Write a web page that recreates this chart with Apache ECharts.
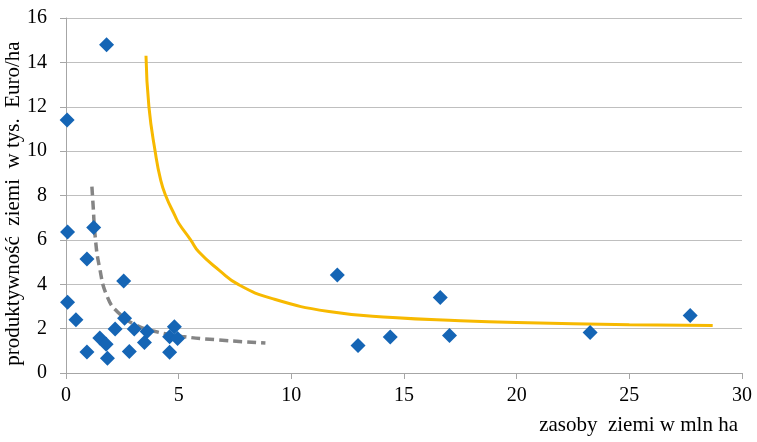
<!DOCTYPE html>
<html>
<head>
<meta charset="utf-8">
<script src="https://cdn.jsdelivr.net/npm/echarts@6/dist/echarts.min.js"></script>
<style>html,body{margin:0;padding:0;background:#fff}#c{width:757px;height:442px}</style>
</head>
<body>
<div id="c"></div>
<script>
// scatter data: land resources (mln ha) vs land productivity (tys. Euro/ha)
var pointsX = [0.05, 1.8, 0.07, 1.23, 0.93, 2.56, 0.07, 0.44, 0.93, 1.5, 1.78, 1.84, 2.18, 2.6, 2.81, 3.03, 3.48, 3.6, 4.81, 4.6, 4.95, 4.6, 12.04, 12.96, 14.39, 16.61, 17.02, 23.26, 27.7];
var pointsY = [11.4, 14.8, 6.36, 6.56, 5.14, 4.15, 3.19, 2.40, 0.95, 1.58, 1.3, 0.67, 1.98, 2.47, 0.97, 1.98, 1.37, 1.87, 2.09, 1.63, 1.55, 0.93, 4.42, 1.24, 1.62, 3.40, 1.69, 1.83, 2.59];
// yellow trend curve
var yellowX = [3.55, 3.68, 3.97, 4.2, 4.42, 4.86, 5.01, 5.53, 5.9, 6.79, 7.68, 9.16, 11.67, 14.5, 17.5, 20, 25, 28.7];
var yellowY = [14.3, 12.0, 9.9, 8.7, 8.0, 7.04, 6.74, 6.0, 5.45, 4.64, 3.97, 3.35, 2.77, 2.5, 2.36, 2.28, 2.18, 2.14];
// gray dashed trend curve
var grayX = [1.15, 1.2, 1.3, 1.48, 1.83, 2.34, 3.08, 3.97, 5.15, 6.63, 8.85];
var grayY = [8.4, 7.6, 6.1, 4.8, 3.44, 2.7, 2.17, 1.87, 1.65, 1.5, 1.35];
var xTicks = [0, 5, 10, 15, 20, 25, 30];
var yTicks = [0, 2, 4, 6, 8, 10, 12, 14, 16];

function zip(a, b) { return a.map(function (v, i) { return [v, b[i]]; }); }

var font = '"Liberation Serif", "Times New Roman", serif';
var chart = echarts.init(document.getElementById('c'));
chart.setOption({
  animation: false,
  backgroundColor: '#ffffff',
  grid: { left: 66, right: 15, top: 18, bottom: 69, containLabel: false, outerBoundsMode: 'none' },
  xAxis: {
    type: 'value', min: xTicks[0], max: xTicks[xTicks.length - 1], interval: 5,
    name: 'zasoby  ziemi w mln ha', nameLocation: 'end', nameGap: 0, nameMoveOverlap: false,
    nameTextStyle: { fontFamily: font, fontSize: 21, color: '#000', align: 'right', verticalAlign: 'top', padding: [42, 4, 0, 0] },
    axisLine: { lineStyle: { color: '#a6a6a6', width: 1 } },
    axisTick: { show: true, inside: false, length: 6, lineStyle: { color: '#a6a6a6' } },
    axisLabel: { fontFamily: font, fontSize: 20, color: '#000', margin: 13 },
    splitLine: { show: false }
  },
  yAxis: {
    type: 'value', min: yTicks[0], max: yTicks[yTicks.length - 1], interval: 2,
    name: 'produktywność  ziemi  w tys.  Euro/ha', nameLocation: 'middle', nameRotate: 90, nameGap: 42,
    nameMoveOverlap: false,
    nameTextStyle: { fontFamily: font, fontSize: 21, color: '#000', padding: [0, 16, 0, 0] },
    axisLine: { show: true, lineStyle: { color: '#a6a6a6', width: 1 } },
    axisTick: { show: true, inside: false, length: 6, lineStyle: { color: '#a6a6a6' } },
    axisLabel: { fontFamily: font, fontSize: 20, color: '#000', margin: 19 },
    splitLine: { show: true, lineStyle: { color: '#bfbfbf', width: 1 } }
  },
  series: [
    {
      type: 'line', data: zip(grayX, grayY), smooth: true, showSymbol: false, z: 2,
      lineStyle: { color: '#858585', width: 3.5, type: [9, 5] }
    },
    {
      type: 'line', data: zip(yellowX, yellowY), smooth: true, showSymbol: false, z: 2,
      lineStyle: { color: '#f7b900', width: 3 }
    },
    {
      type: 'scatter', data: zip(pointsX, pointsY), symbol: 'diamond', symbolSize: [15, 15], z: 3,
      itemStyle: { color: '#1565b5', opacity: 1 }
    }
  ]
});
</script>
</body>
</html>
